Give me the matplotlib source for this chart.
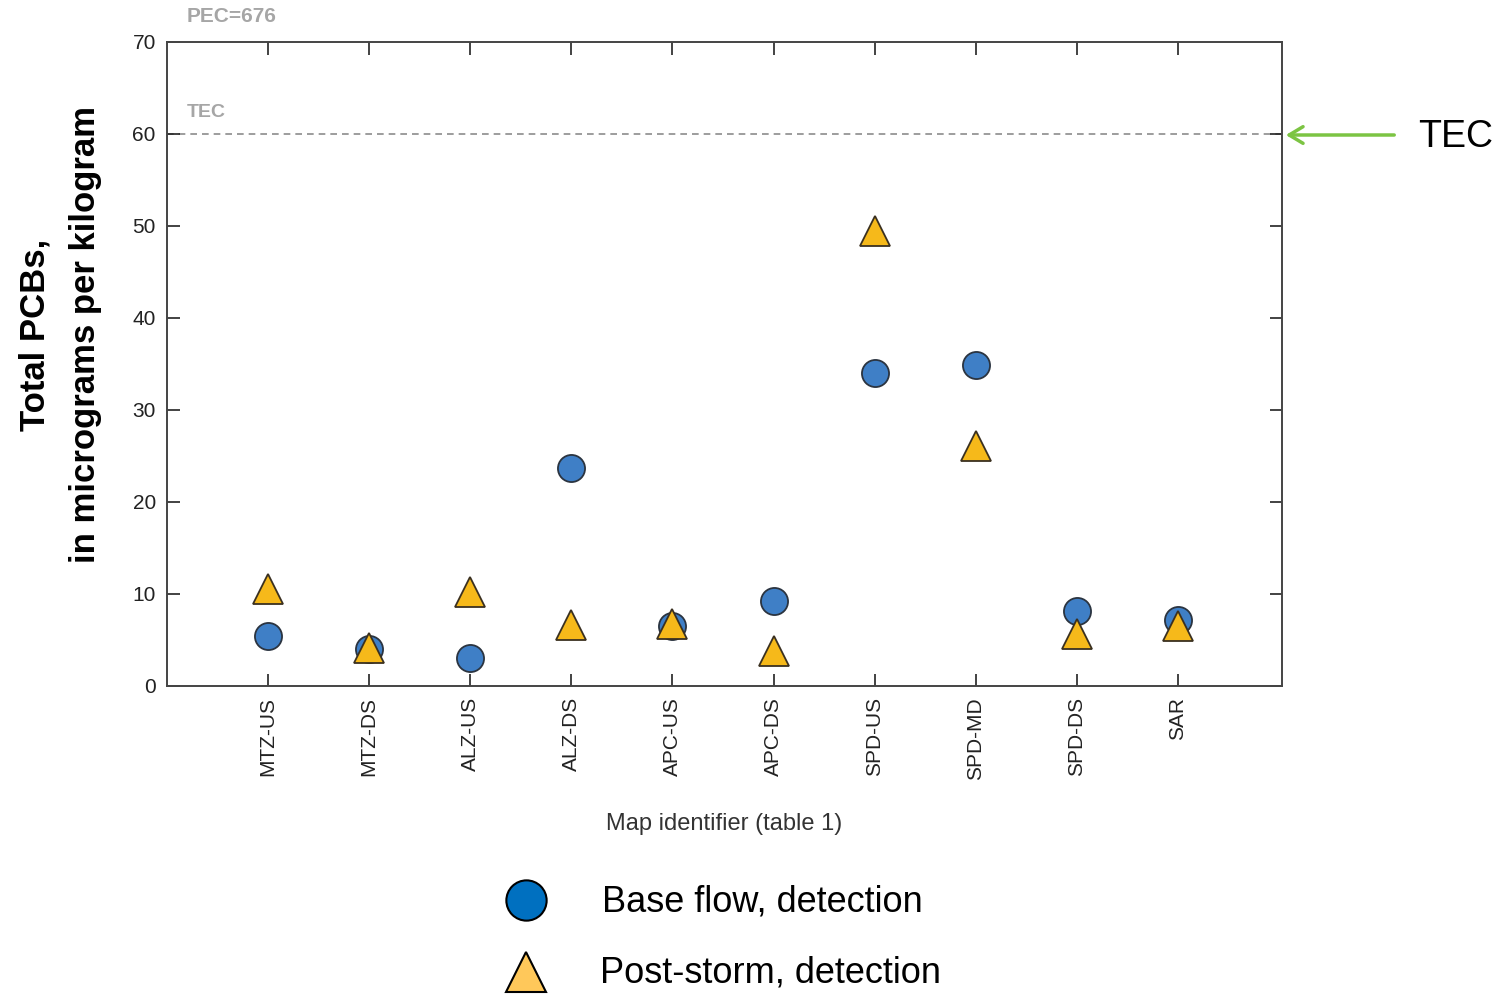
import numpy as np
import matplotlib
matplotlib.use("Agg")
from matplotlib import pyplot as plt

# data
sites = ["MTZ-US", "MTZ-DS", "ALZ-US", "ALZ-DS", "APC-US",
         "APC-DS", "SPD-US", "SPD-MD", "SPD-DS", "SAR"]
base_flow = [5.4, 4.0, 3.0, 23.7, 6.5, 9.2, 34.0, 34.9, 8.2, 7.2]
post_storm = [10.5, 4.1, 10.2, 6.6, 6.7, 3.8, 49.5, 26.1, 5.7, 6.5]
yticks = [0, 10, 20, 30, 40, 50, 60, 70]
tec = 60

plt.rcParams['font.family'] = ['Liberation Sans', 'DejaVu Sans']

fig = plt.figure(figsize=(15.03, 9.94), dpi=100)
ax = fig.add_axes([0.1111, 0.3099, 0.7419, 0.6479])

x = np.arange(1, len(sites) + 1)
ax.plot(x, base_flow, 'o', ms=19.5, mfc='#3f7fc6', mec='#2b3440', mew=1.3, ls='none', zorder=3)
ax.plot(x, post_storm, '^', ms=22, mfc='#f6b91a', mec='#3a3020', mew=1.3, ls='none', zorder=4)

ax.axhline(tec, color='#8c8c8c', ls=(0, (4, 3)), lw=1.2, zorder=1)

ax.set_xlim(0, 11.03)
ax.set_ylim(0, 70)
ax.set_xticks(x)
ax.set_xticklabels(sites, rotation=90, fontsize=15)
ax.set_yticks(yticks)
ax.set_yticklabels([str(v) for v in yticks], fontsize=15)
ax.tick_params(direction='in', length=9, width=1.2, top=True, right=True, colors='#222222', pad=8)
for s in ax.spines.values():
    s.set_color('#444444')
    s.set_linewidth(1.4)

ax.set_xlabel("Map identifier (table 1)", fontsize=17, color='#333333', labelpad=24)

# y label (two lines, bold)
fig.text(0.023, 0.663, "Total PCBs,", rotation=90, fontsize=25, fontweight='bold',
         ha='center', va='center')
fig.text(0.057, 0.663, "in micrograms per kilogram", rotation=90, fontsize=25, fontweight='bold',
         ha='center', va='center')

# gray annotations
fig.text(0.124, 0.983, "PEC=676", fontsize=15, fontweight='bold', color='#a6a6a6',
         ha='left', va='center')
fig.text(0.124, 0.887, "TEC", fontsize=14, fontweight='bold', color='#a6a6a6',
         ha='left', va='center')

# green arrow pointing to TEC line
fig.add_artist(matplotlib.patches.FancyArrowPatch(
    (1397 / 1503, 1 - 135 / 994), (1283 / 1503, 1 - 135 / 994),
    transform=fig.transFigure, arrowstyle='->,head_length=10,head_width=6',
    color='#7cc443', lw=2.5, mutation_scale=1))
fig.text(1418 / 1503, 1 - 137 / 994, "TEC", fontsize=27, ha='left', va='center')

# legend
fig.lines.append(matplotlib.lines.Line2D([526 / 1503], [1 - 900 / 994], marker='o', ms=29,
                                         mfc='#0070c0', mec='black', mew=1.5, ls='none',
                                         transform=fig.transFigure))
fig.lines.append(matplotlib.lines.Line2D([526 / 1503], [1 - 972 / 994], marker='^', ms=29,
                                         mfc='#ffc85a', mec='black', mew=1.5, ls='none',
                                         transform=fig.transFigure))
fig.text(602 / 1503, 1 - 902 / 994, "Base flow, detection", fontsize=26,
         ha='left', va='center')
fig.text(600 / 1503, 1 - 973 / 994, "Post-storm, detection", fontsize=26,
         ha='left', va='center')

fig.savefig("out.png", dpi=100, facecolor='white')
